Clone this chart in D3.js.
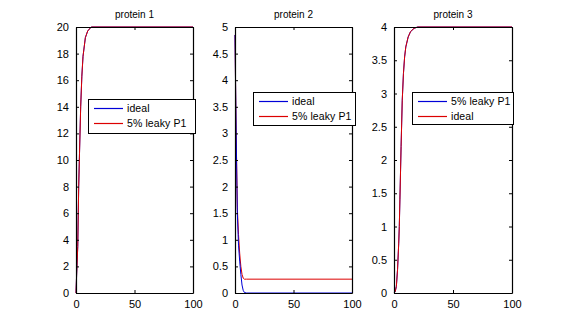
<!DOCTYPE html>
<html><head><meta charset="utf-8">
<script src="https://cdn.jsdelivr.net/npm/d3@7"></script>
<style>
html,body{margin:0;padding:0;background:#fff;}
svg{display:block;font-family:"Liberation Sans",Arial,sans-serif;}
</style></head>
<body><svg id="c" width="571" height="332"></svg>
<script>
// ---- data ----
const titles = ["protein 1", "protein 2", "protein 3"];
const xTicks = [0, 50, 100];
const yTicks1 = [0, 2, 4, 6, 8, 10, 12, 14, 16, 18, 20];
const yTicks2 = [0, 0.5, 1, 1.5, 2, 2.5, 3, 3.5, 4, 4.5, 5];
const yTicks3 = [0, 0.5, 1, 1.5, 2, 2.5, 3, 3.5, 4];

const t1 = [0, 0.5, 1.5, 2.3, 3, 4, 5, 6, 8, 10, 13, 100];
const p1Ideal = [0, 1.3, 3.5, 8, 10.5, 14, 16.3, 17.8, 19.2, 19.7, 20, 20];
const p1Leaky = [0, 1.3, 3.5, 8, 10.5, 14, 16.3, 17.8, 19.2, 19.7, 20, 20];

const t2 = [0, 0.5, 1, 2, 3, 4, 5, 6, 7, 8, 10, 100];
const p2Ideal = [4.85, 3.9, 3.0, 1.5, 0.9, 0.6, 0.35, 0.15, 0.05, 0.01, 0, 0];
const p2Leaky = [4.85, 3.9, 3.0, 1.6, 1.1, 0.75, 0.5, 0.35, 0.28, 0.26, 0.26, 0.26];

const t3 = [0, 1, 2, 3, 4, 4.5, 5, 6, 7, 8, 9, 10, 12, 14, 17, 20, 100];
const p3Leaky = [0, 0.02, 0.1, 0.35, 0.75, 1.0, 1.4, 2.2, 2.9, 3.3, 3.55, 3.7, 3.85, 3.93, 3.98, 4, 4];
const p3Ideal = [0, 0.02, 0.1, 0.35, 0.75, 1.0, 1.4, 2.2, 2.9, 3.3, 3.55, 3.7, 3.85, 3.93, 3.98, 4, 4];

const legend1 = ["ideal", "5% leaky P1"];
const legend2 = ["ideal", "5% leaky P1"];
const legend3 = ["5% leaky P1", "ideal"];

// ---- layout ----
const BLUE = "#0000d8", RED = "#dc0000";
const panels = [
  {x0: 76, x1: 193, yMax: 20, yTicks: yTicks1, t: t1,
   series: [{v: p1Ideal, c: BLUE}, {v: p1Leaky, c: RED}],
   legend: legend1, lcol: [BLUE, RED], lbox: [88, 99, 107, 34]},
  {x0: 235, x1: 352, yMax: 5, yTicks: yTicks2, t: t2,
   series: [{v: p2Leaky, c: RED}, {v: p2Ideal, c: BLUE}],
   legend: legend2, lcol: [BLUE, RED], lbox: [253, 92, 102, 33]},
  {x0: 394, x1: 512, yMax: 4, yTicks: yTicks3, t: t3,
   series: [{v: p3Leaky, c: BLUE}, {v: p3Ideal, c: RED}],
   legend: legend3, lcol: [BLUE, RED], lbox: [412, 92, 101, 32]}
];
const yTop = 27, yBot = 293;
const svg = d3.select("#c");

panels.forEach((p, i) => {
  const x = d3.scaleLinear().domain([0, 100]).range([p.x0, p.x1]);
  const y = d3.scaleLinear().domain([0, p.yMax]).range([yBot, yTop]);
  const g = svg.append("g");

  p.series.forEach(s => {
    const pts = p.t.map((tt, k) => [tt, s.v[k]]);
    g.append("path").datum(pts)
      .attr("fill", "none").attr("stroke", s.c).attr("stroke-width", 1)
      .attr("d", d3.line().x(d => x(d[0])).y(d => y(d[1])));
  });

  const fmt = d3.format("");
  const axB = g.append("g").attr("transform", `translate(0,${yBot})`)
    .call(d3.axisBottom(x).tickValues(xTicks).tickSizeInner(-3).tickSizeOuter(0).tickPadding(7).tickFormat(fmt));
  const axT = g.append("g").attr("transform", `translate(0,${yTop})`)
    .call(d3.axisTop(x).tickValues(xTicks).tickSizeInner(-3).tickSizeOuter(0).tickFormat(""));
  const axL = g.append("g").attr("transform", `translate(${p.x0},0)`)
    .call(d3.axisLeft(y).tickValues(p.yTicks).tickSizeInner(-3).tickSizeOuter(0).tickPadding(7).tickFormat(fmt));
  const axR = g.append("g").attr("transform", `translate(${p.x1},0)`)
    .call(d3.axisRight(y).tickValues(p.yTicks).tickSizeInner(-3).tickSizeOuter(0).tickFormat(""));
  [axB, axT, axL, axR].forEach(a => {
    a.select(".domain").attr("stroke", "#000").attr("stroke-width", 1.2);
    a.selectAll("line").attr("stroke", "#000");
    a.selectAll("text").attr("font-size", 11).attr("fill", "#000")
      .attr("font-family", "Liberation Sans, Arial, sans-serif");
  });

  g.append("text").attr("x", (p.x0 + p.x1) / 2).attr("y", 18)
    .attr("text-anchor", "middle").attr("font-size", 10).text(titles[i]);

  const [lx, ly, lw, lh] = p.lbox;
  const lg = g.append("g");
  lg.append("rect").attr("x", lx + 0.5).attr("y", ly + 0.5).attr("width", lw).attr("height", lh)
    .attr("fill", "#fff").attr("stroke", "#000").attr("stroke-width", 1);
  p.legend.forEach((name, k) => {
    const ry = ly + 9.5 + k * 15;
    lg.append("line").attr("x1", lx + 6).attr("x2", lx + 35).attr("y1", ry).attr("y2", ry)
      .attr("stroke", p.lcol[k]).attr("stroke-width", 1.2);
    lg.append("text").attr("x", lx + 39).attr("y", ry + 3.5)
      .attr("font-size", 10.5).attr("letter-spacing", 0.1).text(name);
  });
});
</script></body></html>
